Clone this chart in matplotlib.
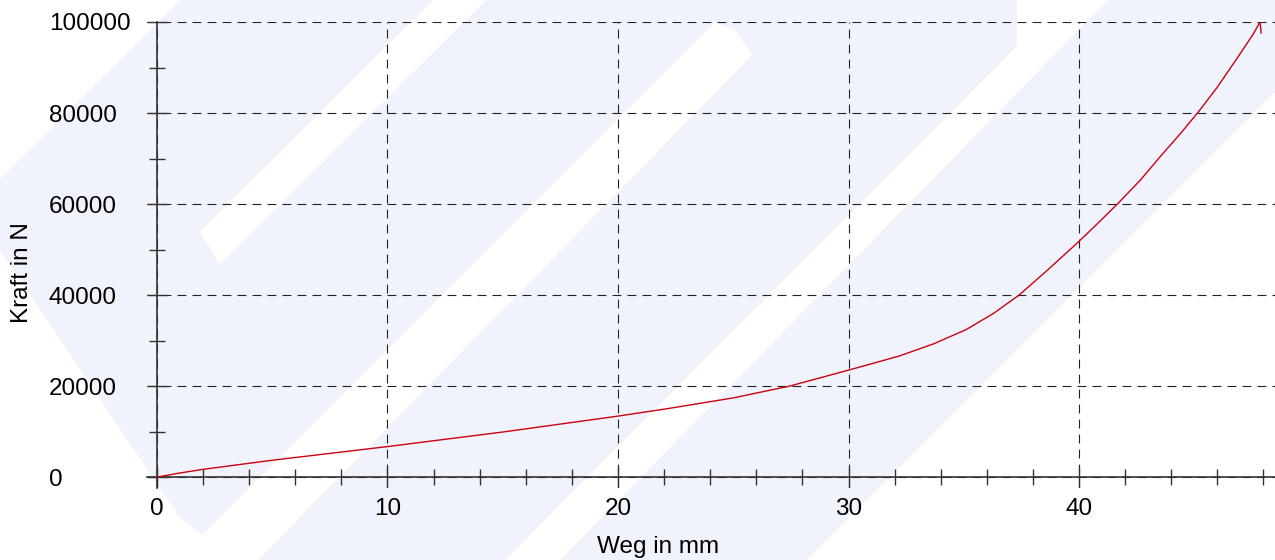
import numpy as np
import matplotlib
matplotlib.use('Agg')
import matplotlib.pyplot as plt
from matplotlib.patches import Polygon, Rectangle
from matplotlib.ticker import MultipleLocator

plt.rcParams['font.family'] = ['Liberation Sans', 'DejaVu Sans']

# force/displacement curve
weg = [0, 1, 2, 5, 10, 15, 20, 22.1, 25, 27.45, 30, 32.2, 33.7, 35.1, 36.3,
       37.4, 38.7, 40.0, 40.9, 41.7, 42.65, 43.5, 44.4, 45.17, 46.0, 46.85,
       47.55, 47.85, 47.9]
kraft = [0, 900, 1700, 3700, 6700, 9900, 13400, 15000, 17400, 20000, 23500,
         26600, 29300, 32400, 36000, 40000, 45800, 51800, 56200, 60200,
         65200, 70300, 75500, 80200, 85700, 92000, 97300, 100000, 97600]

x_label = "Weg in mm"
y_label = "Kraft in N"

# watermark shapes in figure pixels (background decoration)
wm_blue = '#f0f3fb'
wm_white = [
    [(0, 0), (180, 0), (0, 179)],
    [(0, 250), (180, 518), (200, 533), (235, 560), (0, 560)],
    [(200, 232), (433, 0), (486, 0), (220, 264)],
    [(177, 560), (715, 22), (735, 30), (752, 55), (258, 560)],
    [(1017, 0), (1017, 46), (505, 560), (560, 560), (1108, 0)],
    [(807, 560), (1275, 92), (1275, 560)],
]

W, H = 1275, 560
fig = plt.figure(figsize=(W / 100, H / 100), dpi=100)
fig.patch.set_facecolor('white')

# background watermark
bg = fig.add_axes([0, 0, 1, 1], zorder=0)
bg.set_xlim(0, W)
bg.set_ylim(H, 0)
bg.axis('off')
bg.add_patch(Rectangle((0, 0), W, H, color=wm_blue, lw=0))
for poly in wm_white:
    bg.add_patch(Polygon(poly, closed=True, color='white', lw=0))

# main plot
ax = fig.add_axes([146.6 / W, (H - 488) / H, 1128.4 / W, 466 / H], zorder=1)
ax.set_facecolor('none')
ax.plot(weg, kraft, color='#cc0010', lw=1.0, zorder=3)

ax.set_xlim(-0.45, 48.5)
ax.set_ylim(-2400, 100000)

for s in ['top', 'right']:
    ax.spines[s].set_visible(False)
for s in ['left', 'bottom']:
    ax.spines[s].set_position(('data', 0))
    ax.spines[s].set_color('#333333')
    ax.spines[s].set_linewidth(1.2)

ax.xaxis.set_major_locator(MultipleLocator(10))
ax.xaxis.set_minor_locator(MultipleLocator(2))
ax.yaxis.set_major_locator(MultipleLocator(20000))
ax.yaxis.set_minor_locator(MultipleLocator(10000))

ax.tick_params(which='major', direction='inout', length=14.5, width=1,
               color='#333333', labelsize=17.5)
ax.tick_params(which='minor', direction='inout', length=11, width=1,
               color='#333333')
ax.tick_params(axis='x', which='major', pad=7.5)
ax.tick_params(axis='y', which='major', pad=70.6)
for lab in ax.get_yticklabels():
    lab.set_horizontalalignment('left')

ax.grid(True, which='major', color='#222222', lw=0.8, ls=(0, (8, 5.5)))
ax.set_axisbelow(True)

fig.text(658 / W, 1 - 547 / H, x_label, ha='center', va='center', fontsize=17.5)
fig.text(22 / W, 1 - 273 / H, y_label, ha='center', va='center',
         rotation=90, fontsize=17.5)

fig.savefig('out.png', dpi=100)
